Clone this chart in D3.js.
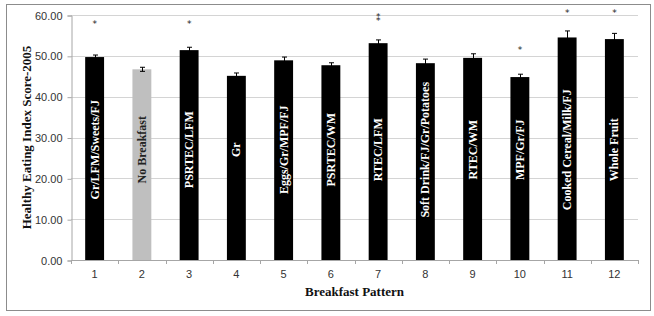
<!DOCTYPE html>
<html>
<head>
<meta charset="utf-8">
<script src="https://cdn.jsdelivr.net/npm/d3@7"></script>
<style>
  body { margin: 0; background: #fff; }
  svg { display: block; }
</style>
</head>
<body>
<div id="chart"></div>
<script>
// ---------------- DATA ----------------

const patterns = ["1", "2", "3", "4", "5", "6", "7", "8", "9", "10", "11", "12"];
const patternNames = [
  "Gr/LFM/Sweets/FJ", "No Breakfast", "PSRTEC/LFM", "Gr", "Eggs/Gr/MPF/FJ",
  "PSRTEC/WM", "RTEC/LFM", "Soft Drink/FJ/Gr/Potatoes", "RTEC/WM", "MPF/Gr/FJ",
  "Cooked Cereal/Milk/FJ", "Whole Fruit"
];
const hei = [49.7, 46.7, 51.4, 45.1, 48.9, 47.7, 53.1, 48.2, 49.5, 44.8, 54.5, 54.1];
const se = [0.5, 0.5, 0.7, 0.7, 0.8, 0.6, 0.8, 1.0, 1.0, 0.7, 1.6, 1.4];
const stars = ["*", "", "*", "", "", "", "⁑", "", "", "*", "*", "*"];
const starAt = [58.9, 0, 58.9, 0, 0, 0, 60.6, 0, 0, 52.6, 61.7, 61.7];
const yTicks = [0, 10, 20, 30, 40, 50, 60];

// ---------------- CHART ----------------

const width = 654, height = 316;
const margin = { top: 15, right: 16, bottom: 56, left: 71 };

const svg = d3.select("#chart").append("svg")
  .attr("width", width)
  .attr("height", height);

// outer frame
svg.append("rect")
  .attr("x", 6.5).attr("y", 4.5)
  .attr("width", 644).attr("height", 306)
  .attr("fill", "none")
  .attr("stroke", "#8c8c8c");

const x = d3.scaleBand()
  .domain(patterns)
  .range([margin.left, width - margin.right])
  .paddingInner(0.6)
  .paddingOuter(0.3);

const y = d3.scaleLinear()
  .domain([0, 60])
  .range([height - margin.bottom, margin.top]);

const step = x.step();
const x0 = margin.left, x1 = width - margin.right;

// gridlines
svg.append("g")
  .selectAll("line")
  .data(yTicks.filter(d => d > 0))
  .join("line")
  .attr("x1", x0).attr("x2", x1)
  .attr("y1", d => Math.round(y(d)) + 0.5)
  .attr("y2", d => Math.round(y(d)) + 0.5)
  .attr("stroke", "#d4d4d4");

// y axis
const yAxis = svg.append("g")
  .attr("transform", `translate(${x0 + 0.5},0.5)`)
  .call(d3.axisLeft(y).tickValues(yTicks).tickSize(4).tickPadding(5).tickFormat(d3.format(".2f")));
yAxis.select(".domain").attr("stroke", "#a6a6a6");
yAxis.selectAll(".tick line").attr("stroke", "#a6a6a6");
yAxis.selectAll("text")
  .attr("font-family", "Liberation Sans, Arial, sans-serif")
  .attr("font-size", 11)
  .attr("fill", "#333");

// x axis: ticks between categories
const xAxisG = svg.append("g");
xAxisG.append("line")
  .attr("x1", x0).attr("x2", x1)
  .attr("y1", y(0) + 0.5).attr("y2", y(0) + 0.5)
  .attr("stroke", "#a6a6a6");
xAxisG.selectAll(".sep")
  .data(d3.range(patterns.length + 1))
  .join("line")
  .attr("class", "sep")
  .attr("x1", i => Math.round(x0 + i * step) + 0.5)
  .attr("x2", i => Math.round(x0 + i * step) + 0.5)
  .attr("y1", y(0)).attr("y2", y(0) + 4)
  .attr("stroke", "#a6a6a6");
xAxisG.selectAll("text")
  .data(patterns)
  .join("text")
  .attr("x", d => x(d) + x.bandwidth() / 2)
  .attr("y", y(0) + 18)
  .attr("text-anchor", "middle")
  .attr("font-family", "Liberation Sans, Arial, sans-serif")
  .attr("font-size", 11)
  .attr("fill", "#333")
  .text(d => d);

// bars
svg.append("g")
  .selectAll("rect")
  .data(patterns)
  .join("rect")
  .attr("x", d => x(d))
  .attr("y", (d, i) => y(hei[i]))
  .attr("width", x.bandwidth())
  .attr("height", (d, i) => y(0) - y(hei[i]))
  .attr("fill", (d, i) => i === 1 ? "#bfbfbf" : "#000");

// error bars
const eb = svg.append("g").attr("stroke", "#000").attr("stroke-width", 1);
patterns.forEach((d, i) => {
  const cx = Math.round(x(d) + x.bandwidth() / 2) + 0.5;
  const top = y(hei[i] + se[i]), bot = y(hei[i] - se[i]);
  eb.append("line").attr("x1", cx).attr("x2", cx).attr("y1", top).attr("y2", bot);
  eb.append("line").attr("x1", cx - 2.5).attr("x2", cx + 2.5).attr("y1", top).attr("y2", top);
  eb.append("line").attr("x1", cx - 2.5).attr("x2", cx + 2.5).attr("y1", bot).attr("y2", bot);
});

// labels inside bars
svg.append("g")
  .selectAll("text")
  .data(patterns)
  .join("text")
  .attr("transform", d => `translate(${x(d) + x.bandwidth() / 2 + 4},${y(27)}) rotate(-90)`)
  .attr("text-anchor", "middle")
  .attr("font-family", "Liberation Serif, Times New Roman, serif")
  .attr("font-weight", "bold")
  .attr("font-size", 12)
  .attr("fill", (d, i) => i === 1 ? "#222" : "#fff")
  .text((d, i) => patternNames[i]);

// significance stars
svg.append("g")
  .selectAll("text")
  .data(patterns.filter((d, i) => stars[i]))
  .join("text")
  .attr("x", d => x(d) + x.bandwidth() / 2)
  .attr("y", d => y(starAt[patterns.indexOf(d)]) + 8)
  .attr("text-anchor", "middle")
  .attr("font-family", "DejaVu Sans, sans-serif")
  .attr("font-size", 9)
  .attr("fill", "#222")
  .text(d => stars[patterns.indexOf(d)]);

// axis titles
svg.append("text")
  .attr("transform", `translate(31,${(y(0) + y(60)) / 2}) rotate(-90)`)
  .attr("text-anchor", "middle")
  .attr("font-family", "Liberation Serif, Times New Roman, serif")
  .attr("font-weight", "bold")
  .attr("font-size", 13)
  .attr("fill", "#111")
  .text("Healthy Eating Index Score-2005");

svg.append("text")
  .attr("x", (x0 + x1) / 2)
  .attr("y", 296)
  .attr("text-anchor", "middle")
  .attr("font-family", "Liberation Serif, Times New Roman, serif")
  .attr("font-weight", "bold")
  .attr("font-size", 13)
  .attr("fill", "#111")
  .text("Breakfast Pattern");
</script>
</body>
</html>
